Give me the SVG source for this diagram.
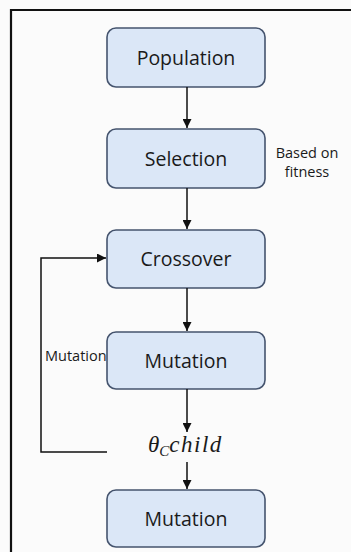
<svg xmlns="http://www.w3.org/2000/svg" width="351" height="552" viewBox="0 0 351 552">
<defs>
<style>
.box{fill:#dbe7f7;stroke:#45546e;stroke-width:1.6}
.lbl{font-family:"Open Sans","Liberation Sans",sans-serif;font-size:19.5px;fill:#1a1a1a;text-anchor:middle}
.small{font-family:"Open Sans","Liberation Sans",sans-serif;font-size:14.5px;fill:#1a1a1a}
.edge{fill:none;stroke:#111;stroke-width:1.5}
</style>
<marker id="ah" viewBox="0 0 10 10" refX="10" refY="5" markerWidth="9" markerHeight="9" markerUnits="userSpaceOnUse" orient="auto">
<path d="M0,0 L10,5 L0,10 z" fill="#111"/>
</marker>
</defs>
<rect x="0" y="0" width="351" height="552" fill="#fbfbfb"/>
<path d="M11,552 V10 H351" fill="none" stroke="#111" stroke-width="2.2"/>
<g id="population"><rect class="box" x="107" y="28" width="158" height="59" rx="9"/><text class="lbl" x="186" y="65">Population</text></g>
<g id="selection"><rect class="box" x="107" y="129" width="158" height="59" rx="9"/><text class="lbl" x="186" y="166">Selection</text></g>
<g id="crossover"><rect class="box" x="107" y="230" width="158" height="58" rx="9"/><text class="lbl" x="186" y="266">Crossover</text></g>
<g id="mutation1"><rect class="box" x="107" y="332" width="158" height="57" rx="9"/><text class="lbl" x="186" y="368">Mutation</text></g>
<g id="mutation2"><rect class="box" x="107" y="490" width="158" height="57" rx="9"/><text class="lbl" x="186" y="526">Mutation</text></g>
<g id="child"><text x="148" y="452" font-family="'Liberation Serif',serif" font-style="italic" font-size="23" fill="#1a1a1a">θ<tspan font-size="15" dy="4">C</tspan><tspan dy="-4" textLength="52" lengthAdjust="spacing">child</tspan></text></g>
<g id="note"><text class="small" x="307" y="158" text-anchor="middle">Based on</text><text class="small" x="307" y="177" text-anchor="middle">fitness</text></g>
<g id="loop-label"><text class="small" x="45" y="361">Mutation</text></g>
<g id="connectors">
<path class="edge" d="M187,87 V128" marker-end="url(#ah)"/>
<path class="edge" d="M187,188 V229" marker-end="url(#ah)"/>
<path class="edge" d="M187,288 V331" marker-end="url(#ah)"/>
<path class="edge" d="M187,389 V432" marker-end="url(#ah)"/>
<path class="edge" d="M187,462 V489" marker-end="url(#ah)"/>
<path class="edge" d="M107,452 H41 V258 H106" marker-end="url(#ah)"/>
</g>
</svg>
